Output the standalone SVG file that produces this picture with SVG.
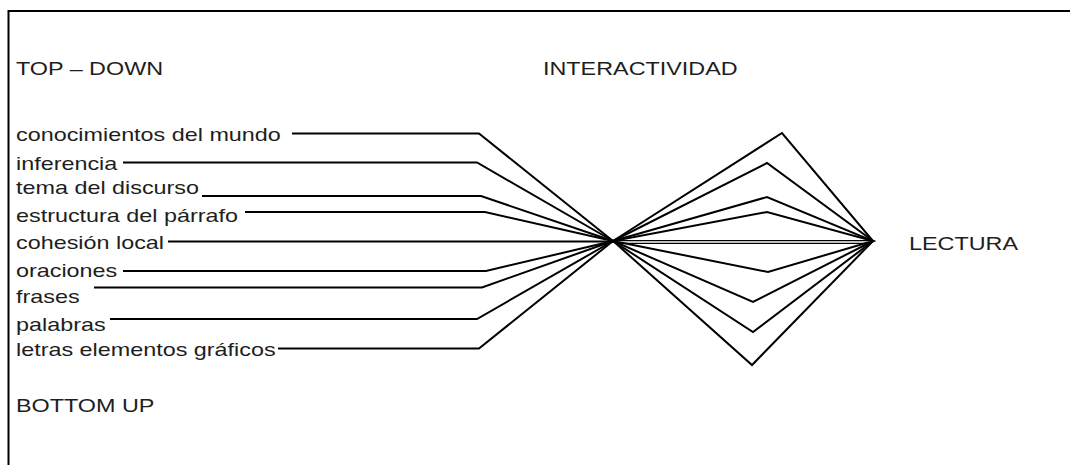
<svg xmlns="http://www.w3.org/2000/svg" width="1070" height="465" viewBox="0 0 1070 465">
  <style>
    text { font-family: "Liberation Sans", Arial, sans-serif; font-size: 19px; fill: #1e1e1e; }
    .wire { fill: none; stroke: #000; stroke-width: 2; stroke-linejoin: miter; }
    .thin { fill: none; stroke: #000; stroke-width: 1.4; }
    .frame { fill: none; stroke: #000; stroke-width: 2; }
  </style>

  <rect width="1070" height="465" fill="#fff"/>

  <!-- open frame: top and left edges only -->
  <path class="frame" d="M8.5 480 V11 H1080"/>

  <!-- headings -->
  <g id="top-down"><text transform="translate(16 75) scale(1.23 1)">TOP – DOWN</text></g>
  <g id="interactividad"><text transform="translate(543 75) scale(1.23 1)">INTERACTIVIDAD</text></g>
  <g id="bottom-up"><text transform="translate(16 412) scale(1.23 1)">BOTTOM UP</text></g>
  <g id="lectura"><text transform="translate(909 250) scale(1.23 1)">LECTURA</text></g>

  <!-- processing levels -->
  <g id="conocimientos"><text transform="translate(16 141) scale(1.23 1)">conocimientos del mundo</text></g>
  <g id="inferencia"><text transform="translate(16 170) scale(1.23 1)">inferencia</text></g>
  <g id="tema"><text transform="translate(16 194) scale(1.23 1)">tema del discurso</text></g>
  <g id="estructura"><text transform="translate(16 222) scale(1.23 1)">estructura del párrafo</text></g>
  <g id="cohesion"><text transform="translate(16 249) scale(1.23 1)">cohesión local</text></g>
  <g id="oraciones"><text transform="translate(16 277) scale(1.23 1)">oraciones</text></g>
  <g id="frases"><text transform="translate(16 303) scale(1.23 1)">frases</text></g>
  <g id="palabras"><text transform="translate(16 331) scale(1.23 1)">palabras</text></g>
  <g id="letras"><text transform="translate(16 356) scale(1.23 1)">letras elementos gráficos</text></g>

  <g id="connectors">
    <!-- left fan: each level runs level, then bends into the crossing point -->
    <polyline class="wire" points="292,133.5 479,133.5 613,241"/>
    <polyline class="wire" points="123,162.5 477,162.5 613,241"/>
    <polyline class="wire" points="202,196 481,196 613,241"/>
    <polyline class="wire" points="245,212 485,212 613,241"/>
    <polyline class="wire" points="168,241.5 616,241.5"/>
    <polyline class="wire" points="123,271 486,271 613,241"/>
    <polyline class="wire" points="94,287.5 482,287.5 613,241"/>
    <polyline class="wire" points="110,319 477,319 613,241"/>
    <polyline class="wire" points="278,348.5 479,348.5 613,241"/>

    <!-- right fan: nested diamonds converging on LECTURA -->
    <path class="wire" d="M613 241 L782 133 L873 241 L752 365 Z"/>
    <path class="wire" d="M613 241 L767 163 L873 241 L753 332 Z"/>
    <path class="wire" d="M613 241 L767 197 L873 241 L753 302 Z"/>
    <path class="wire" d="M613 241 L767 212 L873 241 L768 272 Z"/>
    <line class="thin" x1="616" y1="240.6" x2="873" y2="240.6"/>
    <line class="thin" x1="616" y1="243.4" x2="868" y2="243.4"/>
  </g>
</svg>
